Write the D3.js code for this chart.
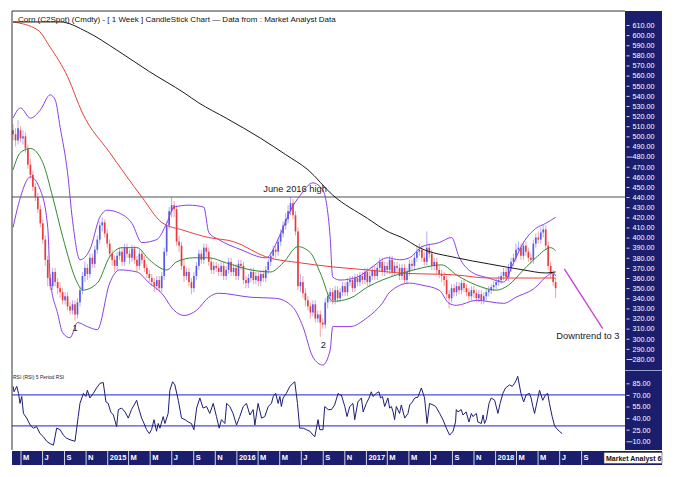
<!DOCTYPE html>
<html lang="en">
<head>
<meta charset="UTF-8">
<title>Corn weekly candlestick</title>
<style>
  body { margin: 0; background: #fff; }
  svg text { font-family: 'Liberation Sans', Arial, sans-serif; }
</style>
</head>
<body>
<script src="https://d3js.org/d3.v7.min.js"></script>
<script>
  const width = 675
  const height = 477

  // weekly candles, first week starting 10 Apr 2014
  const firstWeek = new Date(2014, 3, 10)

  const opens = [
    506,502,496,506,498, 500,488,472,462,450,440,428, 414,398,378, 360,352,366,356,
    350,346,338,342,332,328,334, 324,336,348,362,370,364,380,374,388, 398,412,415,
    404,394,384,378,372, 382,386,376,390,384,380,389,378,372, 384,378,370,364,360,356,352,358,
    350,362,386,412,426,432, 428,396, 392,372,362,366,356,350, 362,372,384,378,390,
    386,376,368,372, 370,366,372,362,368,376,366,370,362, 374,372,358,355,
    360,366,358,362,357,364,360, 368,376,382,388, 386,396,404,412, 418,426,434, 422,406,
    352,356,345, 338,332,326,334,320,324,316, 314,336,342, 346,338,348,340,
    346,352,346,356,358,350,360, 356,362,358,366,356,362,368, 362,370,376,366,372,368,378,366,372,
    370,362,370,358, 366,374,372,380,386, 388,380,376,390,384,372, 376,368,364,362, 358,344,
    340,350,346,352,348,355,350,346,342,348, 345,340,344,338,342, 346,348,351,353,356,
    358,362,366,361,370,376, 380,388,390,382,392, 386,380,378, 394,400,398,405, 408,392,372,364,356
  ]
  const highs = [
    512,508,516,510,506, 504,492,478,466,454,444,432, 418,402,382, 364,370,370,360,
    356,350,346,346,336,338,338, 340,352,366,376,374,384,384,392,402, 416,420,418,
    408,398,388,382,386, 390,390,394,394,388,393,392,382,388, 388,382,374,368,364,360,362,362,
    366,390,416,430,440,436, 432,402, 396,378,370,370,360,366, 376,388,388,394,394,
    390,380,376,376, 374,376,376,372,380,380,374,374,378, 378,376,362,364,
    370,370,366,366,368,368,372, 380,386,392,392, 400,408,416,424, 432,440,438, 426,410,
    364,362,350, 342,336,338,338,328,328,320, 340,346,350, 350,352,352,350,
    356,356,360,362,362,364,364, 366,366,370,370,366,372,372, 374,380,380,376,376,382,382,376,376,
    374,374,374,370, 378,378,384,392,394, 392,386,406,394,388,380, 380,372,368,366, 362,348,
    354,354,356,356,358,358,354,350,352,352, 349,348,348,346,350, 352,354,357,360,362,
    366,370,370,374,380,384, 394,396,394,396,396, 390,384,398, 404,406,410,413, 412,396,376,368,360
  ]
  const lows = [
    496,490,492,494,492, 484,468,458,446,436,424,410, 394,372,352, 348,348,352,344,
    340,334,334,328,324,324,318, 320,332,344,356,358,360,370,370,384, 394,406,400,
    390,380,372,366,368, 378,372,372,380,374,376,374,366,368, 374,366,360,356,352,346,348,346,
    346,358,382,408,420,420, 392,386, 368,356,358,352,344,346, 358,368,374,374,380,
    372,364,364,366, 362,362,358,358,364,362,362,358,358, 368,354,350,350,
    356,354,354,352,352,356,356, 364,372,378,380, 382,392,400,408, 414,422,418, 402,348,
    346,340,332, 328,320,322,316,316,302,310, 310,330,336, 334,334,336,336,
    342,342,342,352,346,346,352, 352,354,354,352,352,358,358, 358,366,362,362,364,364,362,362,366,
    358,358,354,354, 362,368,368,376,382, 376,372,372,380,368,368, 364,360,356,352, 340,330,
    336,342,342,344,344,346,342,338,338,340, 336,336,334,334,338, 342,344,347,349,352,
    354,358,357,357,366,372, 376,384,378,378,382, 376,374,374, 390,394,394,400, 388,368,360,352,340
  ]
  const closes = [
    502,496,508,498,500, 488,472,462,450,440,428,414, 398,378,360, 352,366,356,350,
    346,338,342,332,328,334,324, 336,348,362,370,364,380,374,388,398, 412,415,404,
    394,384,378,372,382, 386,376,390,384,380,389,378,372,384, 378,370,364,360,356,352,358,350,
    362,386,412,426,432,428, 396,392, 372,362,366,356,350,362, 372,384,378,390,386,
    376,368,372,370, 366,372,362,368,376,366,370,362,374, 372,358,355,360,
    366,358,362,357,364,360,368, 376,382,388,386, 396,404,412,418, 426,434,422, 406,352,
    356,345,338, 332,326,334,320,324,316,314, 336,342,346, 338,348,340,346,
    352,346,356,358,350,360,356, 362,358,366,356,362,368,362, 370,376,366,372,368,378,366,372,370,
    362,370,358,366, 374,372,380,386,388, 380,376,390,384,372,376, 368,364,362,358, 344,340,
    350,346,352,348,355,350,346,342,348,345, 340,344,338,342,346, 348,351,353,356,358,
    362,366,361,370,376,380, 388,390,382,392,386, 380,378,394, 400,398,405,408, 392,372,364,356,350
  ]

  // indicator lines as [week, value]
  const maLong = [[0,613],[19,613],[30,603],[42,585],[55,564],[69,543],[75,533],[86,518],[100,498],
    [110,482],[119,467],[129,442],[143,419],[152,405],[157,400],[164,390],[179,380],[192,374],
    [206,368],[215,365],[219,366]]
  const maMid = [[0,613],[10,605],[15,588],[22,559],[28,523],[39,484],[52,440],[60,415],[69,407],
    [79,400],[89,396],[102,381],[116,375],[129,371],[143,368],[156,365],[179,363],[192,360],[219,360]]
  const maShort = [[0,467],[3,484],[7,488],[12,474],[16,440],[20,401],[26,355],[28,348],[34,355],
    [39,381],[44,390],[50,390],[55,378],[62,368],[66,376],[73,380],[79,380],[86,375],[96,368],
    [104,366],[109,375],[115,391],[120,385],[124,365],[129,337],[136,340],[143,351],[149,358],
    [156,364],[165,370],[173,373],[179,363],[187,353],[195,348],[200,353],[206,368],[211,380],
    [217,390],[219,387]]
  const bandUpper = [[0,518],[3,528],[7,518],[11,526],[15,541],[17,536],[19,509],[22,464],[24,417],
    [27,378],[31,388],[35,420],[38,427],[43,424],[48,414],[52,395],[58,398],[62,414],[65,430],
    [71,432],[77,430],[79,405],[83,398],[92,388],[102,380],[108,404],[112,427],[116,442],[121,454],
    [125,447],[128,400],[129,361],[132,358],[139,361],[145,371],[151,380],[156,378],[160,380],
    [165,391],[172,395],[177,400],[180,381],[185,366],[192,360],[198,356],[202,375],[206,395],
    [211,409],[215,414],[219,420]]
  const bandLower = [[0,410],[3,440],[7,460],[11,447],[14,410],[15,358],[18,325],[20,306],[23,301],
    [26,316],[30,312],[34,309],[39,355],[43,368],[50,366],[55,355],[60,345],[65,328],[69,323],
    [74,328],[79,341],[83,345],[96,341],[106,340],[113,331],[117,312],[121,282],[125,274],
    [128,289],[129,312],[136,312],[143,321],[149,335],[152,346],[160,355],[165,353],[172,348],
    [176,335],[179,333],[187,338],[198,335],[203,341],[211,351],[215,361],[218,365],[219,362]]

  // 5 period RSI, [week, value]
  const rsi = [[0,81],[0.4,74],[1.5,81],[2.2,72],[2.8,59],[3.5,68],[4.2,46],[5.5,40],[6.9,31],[8.2,27],
    [9.5,29],[10.9,20],[12.2,16],[13.6,10],[14.9,7],[16.3,5],[17.6,27],[19,25],[20.3,18],[21.6,14],
    [23,12],[25,10],[26.3,42],[27,59],[28.4,72],[29.4,68],[30,76],[31,66],[32.4,72],[33.7,79],
    [35.1,85],[36.4,86],[37.5,61],[38.4,59],[39.4,48],[40.5,44],[41.8,29],[42.5,51],[43.8,53],
    [45.2,48],[46.5,40],[47.8,51],[49.9,63],[50.5,55],[51.9,40],[52.6,35],[53.9,25],[55,20],
    [55.9,25],[56.9,38],[57.9,23],[58.6,33],[59.3,27],[60.6,42],[61.3,33],[62.6,46],[63.3,76],
    [64.4,87],[65.3,83],[66.7,63],[68,40],[69.4,38],[70.7,35],[72,33],[73,25],[74.1,53],[75.4,66],
    [76.7,53],[78.1,55],[79.4,46],[80.8,59],[82.1,42],[83.2,27],[84.1,38],[85.5,33],[86.2,59],
    [87.5,55],[88.8,46],[90.2,31],[91.5,42],[92.9,55],[94.2,59],[95.6,44],[96.9,51],[97.6,31],
    [98.9,59],[100.3,40],[101.6,42],[103,55],[104.3,59],[105,68],[106,72],[107,59],[107.7,68],
    [108.3,55],[109,66],[110.3,72],[111.7,81],[113,85],[113.7,87],[114.8,59],[115.7,27],[117.1,27],
    [118.4,25],[119.8,23],[121.1,18],[121.8,16],[123.1,38],[123.8,25],[125.1,25],[125.8,55],
    [127.2,51],[128.5,51],[129.8,57],[131.2,72],[131.9,70],[132.5,70],[133.9,55],[134.8,42],
    [135.9,55],[137.2,59],[137.9,38],[139.2,61],[140.6,66],[141.3,48],[142.6,59],[143.7,66],
    [144.6,74],[145.3,68],[146.6,72],[147.7,74],[148.3,66],[149.1,68],[150,55],[151.3,66],[152,53],
    [152.7,55],[153.4,48],[154,38],[154.7,55],[156,46],[156.7,57],[158.1,40],[159.4,46],[160.1,57],
    [161.2,61],[162.1,66],[163.4,67],[164.8,79],[166.1,66],[167.1,33],[168.1,59],[169.5,57],
    [170.6,55],[172.2,46],[173.5,38],[174.9,27],[176.2,18],[177.6,23],[178.6,35],[178.9,51],
    [179.6,48],[180.9,51],[181.6,44],[182.9,48],[184,35],[185,46],[185.6,42],[187,46],[187.6,35],
    [189,33],[189.7,44],[190.3,33],[191,38],[192.1,59],[193,66],[194.4,63],[195.7,46],[196.6,59],
    [197.7,72],[198.8,79],[200.4,83],[201.5,81],[202.4,85],[203.1,89],[203.7,94],[205,72],
    [206.1,61],[207.1,70],[208.4,72],[209.1,66],[209.8,55],[210.5,46],[211.1,55],[212.5,76],
    [213.8,63],[214.9,70],[215.8,72],[216.5,59],[217.6,42],[218.5,31],[219.2,27],[220.5,23],[221.6,20]]

  const priceTicks = d3.range(280, 611, 10)
  const priceMajor = [280, 480]
  const rsiTicks = [10, 25, 40, 55, 70, 85]
  const rsiLevels = [30, 70]
  const monthLetters = ['J', 'F', 'M', 'A', 'M', 'J', 'J', 'A', 'S', 'O', 'N', 'D']
  const lastMonthTick = new Date(2018, 8, 1)
  const highLevel = 440

  const titleText = 'Corn (C2Spot) (Cmdty) -  [ 1 Week ] CandleStick Chart \u2014 Data from : Market Analyst Data'

  const navy = '#1b1e6c'
  const font = "'Liberation Sans', Arial, sans-serif"

  const plotL = 12, plotR = 625, plotT = 11, priceB = 370, rsiB = 450, axisR = 662

  const weekDate = i => new Date(firstWeek.getTime() + i * 7 * 864e5)

  const x = d3.scaleTime()
    .domain([new Date(2014, 3, 7), new Date(2019, 0, 3)])
    .range([plotL, plotR])
  const y = d3.scaleLinear().domain([280, 610]).range([359, 25])
  const yRsi = d3.scaleLinear().domain([10, 85]).range([441.3, 383.3])

  const svg = d3.select('body')
    .append('svg')
    .attr('width', width)
    .attr('height', height)

  svg.append('rect').attr('width', width).attr('height', height).attr('fill', '#fff')

  const defs = svg.append('defs')
  defs.append('clipPath').attr('id', 'price-clip')
    .append('rect').attr('x', plotL).attr('y', plotT).attr('width', plotR - plotL).attr('height', priceB - plotT)
  defs.append('clipPath').attr('id', 'rsi-clip')
    .append('rect').attr('x', plotL).attr('y', priceB + 1).attr('width', plotR - plotL).attr('height', rsiB - priceB - 1)
  defs.append('clipPath').attr('id', 'brand-clip')
    .append('rect').attr('x', 604).attr('y', 452).attr('width', 58).attr('height', 12)

  // title sits under the lines
  svg.append('text')
    .attr('x', 18).attr('y', 22)
    .attr('font-size', 8)
    .attr('fill', '#111')
    .text(titleText)

  const price = svg.append('g').attr('clip-path', 'url(#price-clip)')

  price.append('line')
    .attr('x1', plotL).attr('x2', plotR)
    .attr('y1', y(highLevel)).attr('y2', y(highLevel))
    .attr('stroke', '#8a8a8a')
    .attr('stroke-width', 1.6)

  const line = d3.line()
    .x(d => x(weekDate(d[0])))
    .y(d => y(d[1]))
    .curve(d3.curveMonotoneX)

  const candles = closes.map((c, i) => ({
    date: weekDate(i), open: opens[i], high: highs[i], low: lows[i], close: c
  }))
  const colour = d => d.close >= d.open ? '#4646e6' : '#e5262b'

  const candle = price.selectAll('g.candle')
    .data(candles)
    .enter()
    .append('g')
    .attr('class', 'candle')

  candle.append('line')
    .attr('x1', d => x(d.date)).attr('x2', d => x(d.date))
    .attr('y1', d => y(d.high)).attr('y2', d => y(d.low))
    .attr('stroke', colour)
    .attr('stroke-opacity', 0.55)
    .attr('stroke-width', 0.8)

  candle.append('rect')
    .attr('x', d => x(d.date) - 0.85)
    .attr('width', 1.7)
    .attr('y', d => y(Math.max(d.open, d.close)))
    .attr('height', d => Math.max(0.8, Math.abs(y(d.open) - y(d.close))))
    .attr('fill', colour)
    .attr('fill-opacity', 0.85)

  const series = [
    { pts: bandUpper, stroke: '#8a3fe6', w: 1 },
    { pts: bandLower, stroke: '#8a3fe6', w: 1 },
    { pts: maShort, stroke: '#2f8a2f', w: 1 },
    { pts: maMid, stroke: '#e8403a', w: 1 },
    { pts: maLong, stroke: '#1a1a1a', w: 1 }
  ]
  price.selectAll('path.ind')
    .data(series)
    .enter()
    .append('path')
    .attr('class', 'ind')
    .attr('d', d => line(d.pts))
    .attr('fill', 'none')
    .attr('stroke', d => d.stroke)
    .attr('stroke-width', d => d.w)

  // annotations
  const note = (wk, val, txt, anchor) => svg.append('text')
    .attr('x', x(weekDate(wk))).attr('y', y(val))
    .attr('font-size', 9.3).attr('fill', '#1a1a1a')
    .attr('text-anchor', anchor || 'start')
    .text(txt)
  note(101, 445, 'June 2016 high')
  note(25, 307.5, '1', 'middle')
  note(125.2, 291, '2', 'middle')
  note(219.3, 300, 'Downtrend to 3')

  svg.append('line')
    .attr('x1', x(weekDate(222.5))).attr('y1', y(369))
    .attr('x2', x(weekDate(238))).attr('y2', y(310))
    .attr('stroke', '#cc3ad8')
    .attr('stroke-width', 1.3)

  // RSI panel
  svg.append('text')
    .attr('x', 13).attr('y', 379)
    .attr('font-size', 5).attr('fill', '#222')
    .text('RSI (RSI) 5 Period RSI')

  const rsiG = svg.append('g').attr('clip-path', 'url(#rsi-clip)')
  rsiG.selectAll('line.level')
    .data(rsiLevels)
    .enter()
    .append('line')
    .attr('class', 'level')
    .attr('x1', plotL).attr('x2', plotR)
    .attr('y1', d => yRsi(d)).attr('y2', d => yRsi(d))
    .attr('stroke', '#4a4ae0')
    .attr('stroke-width', 1.1)

  rsiG.append('path')
    .attr('d', d3.line().x(d => x(weekDate(d[0]))).y(d => yRsi(d[1]))(rsi))
    .attr('fill', 'none')
    .attr('stroke', '#1d1d78')
    .attr('stroke-width', 1)

  // frame
  svg.append('line').attr('x1', plotL).attr('x2', plotL).attr('y1', plotT).attr('y2', rsiB)
    .attr('stroke', '#333').attr('stroke-width', 1)
  svg.append('line').attr('x1', plotL).attr('x2', plotR).attr('y1', plotT).attr('y2', plotT)
    .attr('stroke', '#333').attr('stroke-width', 1)

  // right value axis
  svg.append('rect')
    .attr('x', plotR).attr('y', plotT)
    .attr('width', axisR - plotR).attr('height', rsiB - plotT)
    .attr('fill', navy)
  svg.append('line')
    .attr('x1', plotR).attr('x2', axisR)
    .attr('y1', priceB + 0.5).attr('y2', priceB + 0.5)
    .attr('stroke', '#9aa0cc').attr('stroke-width', 1)

  const styleAxis = g => {
    g.select('.domain').remove()
    g.selectAll('line').attr('stroke', '#fff').attr('stroke-width', 0.8)
    g.selectAll('text').attr('fill', '#fff').attr('font-size', 7.2).attr('font-family', font)
  }

  svg.append('g')
    .attr('transform', `translate(${plotR + 1.5},0)`)
    .call(d3.axisRight(y).tickValues(priceTicks).tickFormat(d3.format('.2f')).tickSize(3).tickPadding(3))
    .call(styleAxis)
    .call(g => g.selectAll('.tick').filter(d => priceMajor.includes(d)).select('line').attr('x2', 6))

  svg.append('g')
    .attr('transform', `translate(${plotR + 1.5},0)`)
    .call(d3.axisRight(yRsi).tickValues(rsiTicks).tickFormat(d3.format('.2f')).tickSize(3).tickPadding(3))
    .call(styleAxis)
    .call(g => g.selectAll('.tick').filter(d => d === 10).select('line').attr('x2', 6))

  // bottom time axis
  svg.append('rect')
    .attr('x', plotL).attr('y', rsiB + 1)
    .attr('width', axisR - plotL).attr('height', 14)
    .attr('fill', navy)

  const monthTicks = x.ticks(d3.timeMonth.every(2)).filter(d => d <= lastMonthTick)

  svg.append('g')
    .attr('transform', `translate(0,${rsiB + 1})`)
    .call(d3.axisBottom(x)
      .tickValues(monthTicks)
      .tickSize(14)
      .tickFormat(d => d.getMonth() === 0 ? d.getFullYear() : monthLetters[d.getMonth()]))
    .call(g => g.select('.domain').remove())
    .call(g => g.selectAll('line').attr('stroke', '#fff').attr('stroke-width', 0.8))
    .call(g => g.selectAll('text')
      .attr('fill', '#fff')
      .attr('font-size', 7.5)
      .attr('font-weight', 'bold')
      .attr('font-family', font)
      .attr('text-anchor', 'start')
      .attr('x', 2)
      .attr('y', 4)
      .attr('dy', '0.71em'))

  svg.append('rect')
    .attr('x', 604).attr('y', 452.5)
    .attr('width', 58).attr('height', 11)
    .attr('fill', '#fff')
    .attr('stroke', '#444')
    .attr('stroke-width', 0.6)
  svg.append('text')
    .attr('clip-path', 'url(#brand-clip)')
    .attr('x', 606).attr('y', 461)
    .attr('font-size', 7).attr('font-weight', 'bold').attr('fill', '#111')
    .text('Market Analyst 6')
</script>
</body>
</html>
